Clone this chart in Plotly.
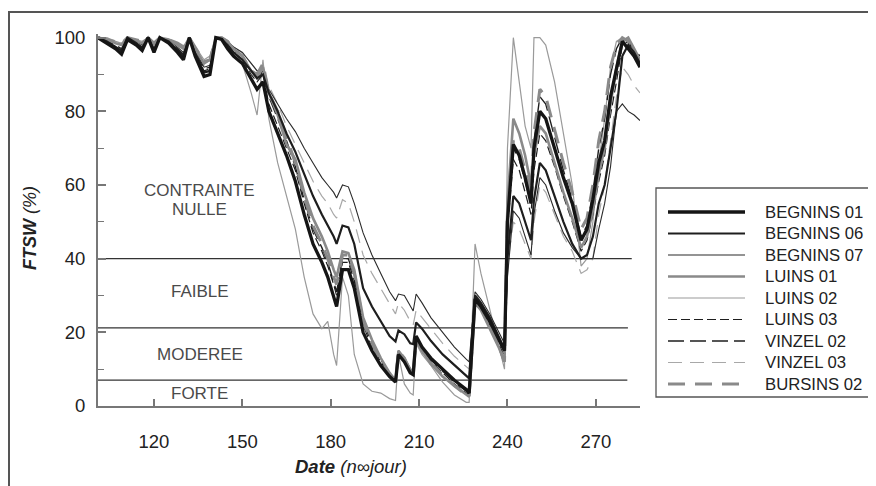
import plotly.graph_objects as go

# ---------------- data ----------------
days = [101, 104, 107, 109, 111, 114, 116, 118, 120, 122, 125, 128, 130, 132, 134, 137, 139, 141, 143, 145, 147,
        150, 153, 155, 157, 159, 162, 165, 168, 171, 174, 177, 179, 181, 182, 184, 186, 188, 191, 194, 197, 200, 202, 203, 205, 207, 208, 209, 211, 214, 218, 222, 226, 227,
        229, 231, 234, 237, 239,
        240, 242, 244, 246, 248, 249, 251, 253, 256, 259, 262, 265, 267, 269, 271, 273, 275, 277, 279, 281, 283, 285]

begnins_01 = [100, 98.5, 97, 95.5, 99.5, 98, 96.5, 100, 96, 100, 98.5, 96, 94, 100, 95, 89.5, 90, 100, 99.5, 97, 95,
              93, 89, 86, 88, 80, 74, 68, 61, 52, 44, 39, 35, 30, 27, 37, 37, 32, 20, 15, 11, 8, 6.5, 14, 12, 9, 8.5, 19, 16, 13, 10, 7, 4.5, 3.5,
              29, 27, 23, 18, 15,
              50, 71, 68, 62, 55, 70, 80, 78, 70, 62, 55, 45, 48, 56, 66, 72, 84, 92, 99, 97, 95, 92]
begnins_06 = [100, 99, 97.5, 96.5, 100, 98.5, 97, 100, 96.5, 100, 99, 96.5, 95, 100, 95.5, 90.5, 91, 100, 99.5, 98, 96,
              94, 91, 89, 90, 85, 80, 74, 69, 63, 57, 52, 49, 46, 44, 49, 48.5, 44, 32, 27, 23, 19, 17.5, 20.5, 19.5, 17, 16.8, 22.7, 21, 17.7, 14, 11, 8, 7.5,
              30, 28, 24, 19, 15.5,
              40, 57, 55, 50, 45, 56, 66, 64, 57, 50, 44, 40, 41, 46, 55, 60, 70, 80, 95, 98, 96, 93]
begnins_07 = [100, 99.5, 98.5, 98, 100, 99, 98, 100, 97.5, 100, 99.5, 97.5, 96, 100, 96.5, 92, 92.5, 100, 100, 99, 97.5,
              96, 93, 91, 90, 86, 82, 78, 74.5, 70, 66, 62, 60, 58, 56.5, 60, 59.5, 55, 47, 41, 36, 31, 28.6, 30.4, 30, 27, 25.8, 30.4, 28, 24, 20, 16, 12.7, 12,
              31, 29, 25, 20, 17,
              35, 53, 51, 46, 41, 52, 62, 60, 53, 47, 43, 40, 40, 40, 48, 55, 65, 80, 82, 80, 79, 77.5]
luins_01 = [100, 99.5, 98.5, 98, 100, 99, 98.5, 100, 98, 100, 99.5, 98, 97, 100, 97, 93, 94, 100, 100, 99, 97,
            95, 91, 89, 92, 85, 79, 71, 67, 58, 51, 46, 42, 37, 35, 42, 41.5, 37, 24, 18, 13, 9, 7, 15, 13, 10, 9, 18, 15, 11.5, 8, 5.5, 3, 2.5,
            28, 26, 21, 16, 12,
            55, 78, 74, 68, 60, 68, 76, 74, 66, 58, 51, 43, 46, 53, 63, 70, 82, 92, 99, 100, 97, 94]
luins_02 = [100, 100, 99, 98.5, 100, 99.5, 99, 100, 98.5, 100, 99.5, 98.5, 97.5, 100, 97.5, 94, 95, 100, 100, 98, 95,
            93, 85, 79, 94, 78, 66, 57, 48, 35, 25, 21, 23, 14, 11, 35, 30, 14, 6, 4, 3.5, 2, 1.5, 14, 6, 3.5, 3, 17, 14, 11, 6.5, 3, 1, 1,
            44, 36, 26, 16, 10,
            70, 100, 88, 76, 70, 100, 100, 98, 88, 74, 60, 38, 40, 50, 66, 78, 92, 99, 100, 99, 96, 92]
luins_03 = [100, 98.5, 97, 96, 99.5, 98, 97, 100, 96.5, 100, 99, 96.5, 95, 100, 95.5, 91, 91.5, 100, 99.5, 98, 96,
            94, 90, 88, 90, 82, 76, 70, 64, 55, 47, 42, 38, 33, 30, 39, 39, 34, 22, 16, 12, 8.5, 7, 14.5, 12.5, 9.5, 9, 18.5, 15.5, 12, 9, 6, 3.5, 3,
            29, 27, 22, 17, 13.5,
            48, 67, 64, 58, 52, 64, 74, 72, 65, 57, 50, 42, 45, 52, 61, 68, 79, 88, 98, 99, 96, 93]
vinzel_02 = [100, 99, 98, 97, 100, 98.5, 97.5, 100, 97, 100, 99, 97, 95.5, 100, 96, 91.5, 92, 100, 99.5, 98, 96,
             95, 91, 89, 91, 84, 78, 72, 65, 56, 48, 43, 39, 34, 31, 40, 40, 35, 23, 17, 12.5, 9, 7.5, 15, 13, 10, 9.5, 19, 16, 12.5, 9.5, 6.5, 4, 3.5,
             30, 27.5, 23, 18, 14,
             50, 70, 67, 61, 55, 72, 84, 82, 73, 64, 56, 46, 49, 58, 70, 78, 90, 97, 100, 99, 97, 95]
vinzel_03 = [100, 99.5, 98.5, 98.5, 100, 99, 98.5, 100, 98, 100, 99.5, 98, 97, 100, 97, 92.5, 93, 100, 100, 99, 97.5,
             96, 93, 91, 92, 87, 82, 76, 71, 66, 61, 57, 55, 52, 51, 56, 55, 50, 41, 36, 32, 28, 25, 28, 26, 23, 22, 26, 24, 21, 17, 13.5, 10.5, 10,
             31, 28, 23, 17, 12.5,
             38, 50, 48, 44, 40, 50, 60, 58, 52, 46, 42, 36, 37, 40, 52, 60, 72, 84, 92, 90, 87, 85]
bursins_02 = [100, 99.5, 99, 98.5, 100, 99.5, 99, 100, 98.5, 100, 99.5, 98.5, 97.5, 100, 97.5, 93.5, 94, 100, 100, 99, 97,
              95, 91, 90, 93, 85, 80, 73, 66, 57, 49, 44, 40, 35, 33, 41, 41, 36, 23, 17, 12, 8.5, 7, 15, 13, 9.5, 9, 18, 15, 11.5, 8.5, 5.5, 3, 2.5,
              30, 27, 22, 16.5, 12,
              52, 72, 70, 64, 58, 74, 86, 84, 75, 66, 58, 48, 51, 60, 72, 80, 92, 98, 100, 99, 96, 93]

series_names = ["BEGNINS 01", "BEGNINS 06", "BEGNINS 07", "LUINS 01", "LUINS 02",
                "LUINS 03", "VINZEL 02", "VINZEL 03", "BURSINS 02"]
series_values = [begnins_01, begnins_06, begnins_07, luins_01, luins_02,
                 luins_03, vinzel_02, vinzel_03, bursins_02]

thresholds = [40, 21.2, 7]
threshold_ends = [282.2, 280.9, 280.7]
zone_labels = ["CONTRAINTE", "NULLE", "FAIBLE", "MODEREE", "FORTE"]
zone_label_y = [58.5, 53.3, 31.2, 13.9, 3.5]
x_ticks = [120, 150, 180, 210, 240, 270]
y_ticks = [0, 20, 40, 60, 80, 100]

# ---------------- styles ----------------
styles = {
    "BEGNINS 01": dict(color="#151515", width=3.3, dash="solid"),
    "BEGNINS 06": dict(color="#1e1e1e", width=2.2, dash="solid"),
    "BEGNINS 07": dict(color="#2a2a2a", width=1.1, dash="solid"),
    "LUINS 01":   dict(color="#8a8a8a", width=2.6, dash="solid"),
    "LUINS 02":   dict(color="#9a9a9a", width=1.2, dash="solid"),
    "LUINS 03":   dict(color="#1e1e1e", width=1.2, dash="9px,4px"),
    "VINZEL 02":  dict(color="#1e1e1e", width=1.4, dash="16px,6px"),
    "VINZEL 03":  dict(color="#a8a8a8", width=1.2, dash="14px,8px"),
    "BURSINS 02": dict(color="#8a8a8a", width=3.0, dash="17px,10px"),
}
draw_order = ["LUINS 02", "VINZEL 03", "BEGNINS 07", "LUINS 03", "VINZEL 02",
              "LUINS 01", "BURSINS 02", "BEGNINS 06", "BEGNINS 01"]

FONT = "Liberation Sans, Arial, sans-serif"
OFF = 8                      # page body margin of the html page
W, H = 876 - OFF, 486 - OFF  # figure size
# plot area in page pixels
PL, PR, PT, PB = 98, 640, 34, 406
L, R, T, B = PL - OFF, PR - OFF, PT - OFF, PB - OFF


def px(xpage):
    return (xpage - PL) / (PR - PL)


def py(ypage):
    return (PB - ypage) / (PB - PT)


fig = go.Figure()
for name in draw_order:
    vals = series_values[series_names.index(name)]
    st = styles[name]
    fig.add_trace(go.Scatter(
        x=days, y=vals, mode="lines", name=name, showlegend=False,
        line=dict(color=st["color"], width=st["width"], dash=st["dash"]),
        hoverinfo="x+y+name"))

shapes = []
for v, e in zip(thresholds, threshold_ends):
    shapes.append(dict(type="line", xref="x", yref="y", x0=101, x1=e, y0=v, y1=v,
                       line=dict(color="#333333", width=1.2), layer="below"))
# outer frame (cropped on the right and bottom like the reference)
shapes.append(dict(type="rect", xref="paper", yref="paper",
                   x0=px(9), x1=px(900), y0=py(520), y1=py(12),
                   line=dict(color="#555555", width=2)))
# legend box
LEG_L, LEG_T, LEG_B = 656, 188, 397
shapes.append(dict(type="rect", xref="paper", yref="paper",
                   x0=px(LEG_L), x1=px(900), y0=py(LEG_B), y1=py(LEG_T),
                   line=dict(color="#555555", width=1.3), fillcolor="white"))

annotations = []
for i, name in enumerate(series_names):
    st = styles[name]
    yy = 212 + 21.5 * i
    shapes.append(dict(type="line", xref="paper", yref="paper",
                       x0=px(668), x1=px(745), y0=py(yy), y1=py(yy),
                       line=dict(color=st["color"], width=st["width"], dash=st["dash"])))
    annotations.append(dict(xref="paper", yref="paper", x=px(763), y=py(yy),
                            text=name, showarrow=False, xanchor="left", yanchor="middle",
                            font=dict(family=FONT, size=16.7, color="#222222")))

for lab, yv in zip(zone_labels, zone_label_y):
    annotations.append(dict(xref="x", yref="y", x=135.6, y=yv, text=lab, showarrow=False,
                            xanchor="center", yanchor="middle",
                            font=dict(family=FONT, size=17, color="#4a4a4a")))

annotations.append(dict(xref="paper", yref="paper", x=px(351), y=py(466),
                        text="<b><i>Date</i></b> <i>(n∞jour)</i>", showarrow=False,
                        xanchor="center", yanchor="middle",
                        font=dict(family=FONT, size=18.5, color="#222222")))
annotations.append(dict(xref="paper", yref="paper", x=px(30), y=py(228),
                        text="<b><i>FTSW</i></b><i> (%)</i>", showarrow=False, textangle=-90,
                        xanchor="center", yanchor="middle",
                        font=dict(family=FONT, size=18, color="#222222")))

fig.update_layout(
    width=W, height=H,
    margin=dict(l=L, r=W - R, t=T, b=H - B, pad=0),
    paper_bgcolor="white", plot_bgcolor="white",
    font=dict(family=FONT, size=18.5, color="#222222"),
    shapes=shapes, annotations=annotations, showlegend=False,
    xaxis=dict(range=[101, 285], showgrid=False, zeroline=False,
               showline=True, linecolor="#777777", linewidth=2,
               tickmode="array", tickvals=x_ticks, ticks="inside", ticklen=7,
               tickwidth=1.5, tickcolor="#777777", ticklabelstandoff=18,
               tickfont=dict(family=FONT, size=18.5, color="#222222")),
    yaxis=dict(range=[0, 101], showgrid=False, zeroline=False,
               showline=True, linecolor="#777777", linewidth=2,
               tickmode="array", tickvals=y_ticks, ticks="inside", ticklen=8,
               tickwidth=1.5, tickcolor="#777777", ticklabelstandoff=7,
               minor=dict(tickvals=[10, 30, 50, 70, 90], ticks="inside", ticklen=6,
                          tickwidth=1.2, tickcolor="#777777"),
               tickfont=dict(family=FONT, size=18.5, color="#222222")),
)

fig.write_html("out.html")
